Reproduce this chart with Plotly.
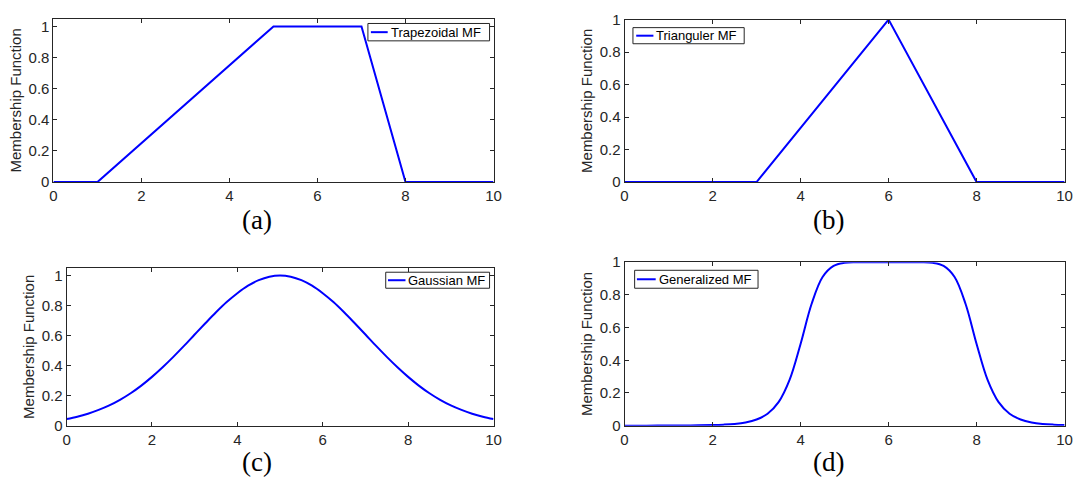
import plotly.graph_objects as go

W, H = 1082, 489

# ---- data ----
trap_x = [0, 1, 5, 7, 8, 10]
trap_y = [0, 0, 1, 1, 0, 0]

tri_x = [0, 3, 6, 8, 10]
tri_y = [0, 0, 1, 0, 0]

gauss_x = [0, 0.25, 0.5, 0.75, 1, 1.25, 1.5, 1.75, 2, 2.25, 2.5, 2.75, 3, 3.25, 3.5, 3.75,
           4, 4.25, 4.5, 4.75, 5, 5.25, 5.5, 5.75, 6, 6.25, 6.5, 6.75, 7, 7.25, 7.5, 7.75,
           8, 8.25, 8.5, 8.75, 9, 9.25, 9.5, 9.75, 10]
gauss_y = [0.044, 0.060, 0.080, 0.105, 0.135, 0.172, 0.216, 0.267, 0.325, 0.389, 0.458,
           0.531, 0.607, 0.682, 0.755, 0.823, 0.882, 0.932, 0.969, 0.992, 1.0,
           0.992, 0.969, 0.932, 0.882, 0.823, 0.755, 0.682, 0.607, 0.531, 0.458,
           0.389, 0.325, 0.267, 0.216, 0.172, 0.135, 0.105, 0.080, 0.060, 0.044]

gen_x = [0, 0.5, 1, 1.5, 2, 2.25, 2.5, 2.75, 3, 3.25, 3.5, 3.75, 4, 4.25, 4.5, 4.75,
         5, 5.25, 5.5, 6, 6.5, 6.75, 7, 7.25, 7.5, 7.75, 8, 8.25, 8.5, 8.75,
         9, 9.25, 9.5, 9.75, 10]
gen_y = [0.0002, 0.0003, 0.0007, 0.0015, 0.0039, 0.0065, 0.011, 0.020, 0.038, 0.073,
         0.144, 0.280, 0.5, 0.744, 0.909, 0.977,
         0.996, 1.0, 1.0, 1.0, 1.0, 1.0, 0.996, 0.977, 0.909, 0.744, 0.5, 0.280,
         0.144, 0.073, 0.038, 0.020, 0.011, 0.0065, 0.0039]

names = ["Trapezoidal MF", "Trianguler MF", "Gaussian MF", "Generalized MF"]
panel_labels = ["(a)", "(b)", "(c)", "(d)"]
x_ticks = [0, 2, 4, 6, 8, 10]
y_ticks = [0, 0.2, 0.4, 0.6, 0.8, 1]
y_max = [1.05, 1.0, 1.05, 1.0]

# ---- layout geometry (pixels) ----
def px(x):
    return x / W

def py(y):
    return 1 - y / H

boxes = [  # left, right, top, bottom in px
    (50, 495, 10, 179.3),
    (627.5, 1072.5, 11, 179.3),
    (63.3, 495, 268.3, 431.7),
    (627.5, 1072.5, 262.3, 431.7),
]
# legend box: left, right, top, bottom, sample-line start, sample-line end
legend_boxes = [
    (368, 491, 15, 33, 371, 388),
    (636, 748.5, 19.3, 36, 639.3, 656.7),
    (386, 491, 272.7, 289.3, 388.3, 406),
    (637.7, 762.5, 270.7, 289.3, 640, 659),
]
label_pos = [(256, 219), (834, 219), (256, 469), (834, 469)]

BLUE = "#0000ff"
AX = "#262626"
SANS = "Liberation Sans, Arial, Helvetica, sans-serif"
FS = 15

fig = go.Figure()
series = [(trap_x, trap_y, "linear"), (tri_x, tri_y, "linear"),
          (gauss_x, gauss_y, "spline"), (gen_x, gen_y, "spline")]

layout = dict(
    width=W, height=H,
    margin=dict(l=0, r=0, t=0, b=0),
    paper_bgcolor="white", plot_bgcolor="white",
    font=dict(family=SANS, size=FS, color=AX),
    showlegend=False,
    annotations=[], shapes=[],
)

for i, ((xs, ys, shape), name) in enumerate(zip(series, names)):
    k = "" if i == 0 else str(i + 1)
    fig.add_trace(go.Scatter(
        x=xs, y=ys, mode="lines", name=name,
        line=dict(color=BLUE, width=2, shape=shape, smoothing=1.0),
        xaxis="x" + k, yaxis="y" + k,
    ))
    l, r, t, b = boxes[i]
    common = dict(showline=True, linecolor=AX, linewidth=1, mirror="ticks",
                  ticks="inside", ticklen=4, tickcolor=AX, tickwidth=1,
                  showgrid=False, zeroline=False,
                  tickfont=dict(family=SANS, size=FS, color=AX))
    layout["xaxis" + k] = dict(domain=[px(l), px(r)], range=[0, 10],
                               tickvals=x_ticks, anchor="y" + k, **common)
    layout["yaxis" + k] = dict(domain=[py(b), py(t)], range=[0, y_max[i]],
                               tickvals=y_ticks, anchor="x" + k,
                               title=dict(text="Membership Function",
                                          font=dict(family=SANS, size=FS, color=AX),
                                          standoff=3),
                               **common)
    # legend (box, sample line, label)
    bl, br, bt, bb, s0, s1 = legend_boxes[i]
    ym = (bt + bb) / 2
    layout["shapes"].append(dict(type="rect", xref="paper", yref="paper",
                                 x0=px(bl), x1=px(br), y0=py(bb), y1=py(bt),
                                 fillcolor="white", line=dict(color=AX, width=1)))
    layout["shapes"].append(dict(type="line", xref="paper", yref="paper",
                                 x0=px(s0), x1=px(s1), y0=py(ym), y1=py(ym),
                                 line=dict(color=BLUE, width=2)))
    layout["annotations"].append(dict(
        text=name, x=px(s1 + 1), y=py(ym), xref="paper", yref="paper",
        xanchor="left", yanchor="middle", showarrow=False,
        font=dict(family=SANS, size=13, color="black"),
    ))
    cx, cy = label_pos[i]
    layout["annotations"].append(dict(
        text=panel_labels[i], x=px(cx), y=py(cy), xref="paper", yref="paper",
        xanchor="center", yanchor="middle", showarrow=False,
        font=dict(family="Liberation Serif, Times New Roman, serif", size=27, color="black"),
    ))

fig.update_layout(**layout)
fig.write_html("out.html")
